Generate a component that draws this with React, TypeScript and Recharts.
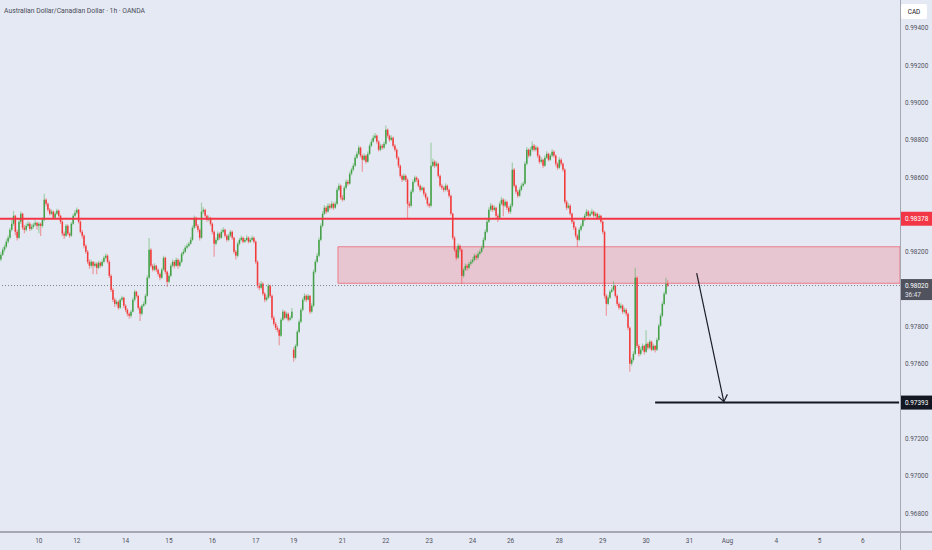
import React from 'react';
import { ComposedChart, Bar, XAxis, YAxis, ReferenceLine, ReferenceArea } from 'recharts';

// AUD/CAD 1h candles.
// Prices are stored as 1e-5 steps above 0.97000 (1378 -> 0.98378).
// Each candle is [high, low, close]; open = previous close, a 4th value overrides the open (gap).
type Candle = number[];

const firstOpen = 1160;

const seg09: Candle[] = [
  [1200, 1150, 1185], [1225, 1178, 1212], [1240, 1200, 1228], [1268, 1220, 1255], [1290, 1245, 1276],
  [1330, 1268, 1319], [1372, 1310, 1351], [1420, 1340, 1394], [1400, 1290, 1308], [1320, 1262, 1276],
  [1375, 1270, 1362], [1418, 1350, 1405], [1410, 1318, 1330], [1345, 1300, 1319], [1352, 1310, 1340],
  [1365, 1332, 1351], [1360, 1312, 1324], [1348, 1315, 1335], [1356, 1325, 1346], [1370, 1338, 1356],
  [1362, 1320, 1340],
];
const seg10: Candle[] = [
  [1362, 1300, 1351], [1358, 1285, 1340], [1385, 1330, 1373], [1512, 1365, 1480], [1488, 1445, 1458],
  [1465, 1415, 1426], [1435, 1395, 1405], [1428, 1398, 1416], [1422, 1372, 1383], [1415, 1375, 1405],
  [1432, 1398, 1421], [1428, 1385, 1394], [1400, 1350, 1362], [1370, 1285, 1298], [1310, 1270, 1287],
  [1350, 1280, 1340], [1348, 1290, 1298], [1305, 1275, 1287], [1360, 1282, 1351], [1405, 1345, 1394],
  [1425, 1388, 1410],
];
const seg12: Candle[] = [
  [1438, 1402, 1426], [1430, 1352, 1362], [1370, 1300, 1308], [1318, 1272, 1287], [1295, 1220, 1233],
  [1242, 1190, 1201], [1210, 1135, 1147], [1160, 1110, 1126], [1158, 1115, 1147], [1152, 1080, 1126],
  [1148, 1118, 1137], [1145, 1080, 1115], [1152, 1108, 1142], [1150, 1115, 1126], [1160, 1120, 1147],
  [1180, 1140, 1169], [1192, 1160, 1180], [1188, 1138, 1147], [1155, 1060, 1072], [1080, 985, 997],
  [1005, 930, 944], [955, 905, 922], [945, 912, 933], [940, 890, 901], [952, 895, 944],
  [965, 935, 955], [960, 900, 912],
];
const seg14: Candle[] = [
  [920, 878, 890], [898, 855, 869], [875, 842, 858], [890, 848, 880], [955, 875, 944],
  [998, 935, 987], [992, 955, 965], [970, 890, 901], [910, 830, 869], [920, 860, 912],
  [935, 905, 922], [975, 915, 965], [1075, 960, 1062], [1275, 1055, 1212], [1220, 1115, 1126],
  [1135, 1095, 1105], [1140, 1098, 1126], [1132, 1092, 1105], [1112, 1070, 1083], [1090, 1048, 1062],
  [1115, 1055, 1105], [1180, 1100, 1169], [1175, 1080, 1094], [1100, 1012, 1040],
];
const seg15: Candle[] = [
  [1085, 1032, 1072], [1138, 1065, 1126], [1160, 1118, 1147], [1155, 1112, 1126], [1170, 1120, 1158],
  [1165, 1110, 1126], [1158, 1118, 1147], [1200, 1140, 1190], [1215, 1182, 1201], [1235, 1195, 1223],
  [1245, 1215, 1233], [1255, 1225, 1244], [1280, 1238, 1265], [1342, 1258, 1330], [1395, 1322, 1383],
  [1390, 1330, 1340], [1350, 1305, 1319], [1325, 1262, 1276], [1465, 1270, 1416], [1440, 1405, 1426],
  [1432, 1385, 1394], [1400, 1362, 1373], [1395, 1365, 1383], [1388, 1340, 1351],
];
const seg16: Candle[] = [
  [1358, 1295, 1308], [1315, 1175, 1244], [1278, 1235, 1265], [1310, 1258, 1298], [1305, 1265, 1276],
  [1320, 1270, 1308], [1332, 1300, 1319], [1325, 1278, 1287], [1295, 1255, 1265], [1298, 1258, 1287],
  [1318, 1280, 1308], [1315, 1265, 1276], [1282, 1190, 1201], [1210, 1160, 1180], [1255, 1172, 1244],
  [1275, 1235, 1265], [1288, 1258, 1276], [1282, 1245, 1255], [1275, 1248, 1265], [1290, 1258, 1276],
  [1284, 1246, 1255], [1276, 1248, 1265], [1288, 1258, 1276], [1283, 1245, 1255],
];
const seg17: Candle[] = [
  [1262, 1135, 1147], [1155, 1005, 1019], [1035, 995, 1008], [1045, 1000, 1030], [1038, 965, 976],
  [985, 930, 944], [968, 935, 955], [1030, 948, 1019], [1025, 955, 965], [972, 835, 847],
  [858, 805, 815], [825, 782, 794], [805, 770, 783], [790, 700, 751], [848, 745, 837],
  [892, 830, 880], [886, 838, 847], [880, 840, 869], [875, 826, 837], [858, 830, 847],
  [900, 840, 880],
];
const seg19: Candle[] = [
  [690, 612, 633, 676], [705, 625, 697], [782, 690, 772], [838, 765, 826], [900, 818, 890],
  [955, 882, 944], [978, 935, 965], [972, 932, 944], [975, 938, 965], [970, 868, 880],
  [925, 872, 912], [1105, 905, 1094], [1160, 1085, 1147], [1195, 1140, 1180], [1278, 1172, 1265],
  [1352, 1258, 1340], [1418, 1332, 1405], [1452, 1398, 1437], [1445, 1405, 1416], [1462, 1410, 1448],
  [1458, 1428, 1437], [1472, 1430, 1458], [1465, 1425, 1437], [1470, 1430, 1458], [1545, 1450, 1533],
  [1568, 1525, 1555], [1562, 1480, 1491],
];
const seg21: Candle[] = [
  [1505, 1470, 1480], [1555, 1475, 1544], [1590, 1535, 1576], [1585, 1555, 1566], [1630, 1560, 1619],
  [1652, 1610, 1641], [1675, 1632, 1662], [1718, 1655, 1705], [1740, 1698, 1726], [1770, 1718, 1759],
  [1765, 1705, 1716], [1722, 1630, 1694], [1728, 1688, 1716], [1722, 1672, 1683], [1738, 1678, 1726],
  [1780, 1720, 1769], [1805, 1762, 1791], [1825, 1785, 1812], [1838, 1805, 1823], [1830, 1780, 1791],
  [1798, 1738, 1748], [1780, 1740, 1769], [1778, 1748, 1759], [1792, 1752, 1780],
];
const seg22: Candle[] = [
  [1878, 1772, 1855], [1862, 1812, 1823], [1830, 1790, 1801], [1825, 1795, 1812], [1818, 1760, 1769],
  [1778, 1738, 1748], [1755, 1695, 1705], [1712, 1650, 1662], [1668, 1598, 1608], [1615, 1575, 1587],
  [1620, 1580, 1608], [1615, 1575, 1587], [1595, 1378, 1458], [1470, 1435, 1448], [1535, 1440, 1523],
  [1588, 1515, 1576], [1610, 1568, 1598], [1605, 1575, 1587], [1595, 1545, 1555], [1562, 1522, 1533],
  [1555, 1525, 1544], [1550, 1500, 1512], [1520, 1480, 1491], [1498, 1445, 1458],
];
const seg23: Candle[] = [
  [1465, 1435, 1448], [1785, 1440, 1662], [1700, 1655, 1683], [1692, 1650, 1662], [1688, 1655, 1673],
  [1680, 1598, 1608], [1615, 1545, 1555], [1565, 1532, 1544], [1552, 1520, 1533], [1568, 1525, 1555],
  [1562, 1522, 1533], [1540, 1490, 1501], [1508, 1395, 1405], [1412, 1265, 1276], [1285, 1200, 1212],
  [1222, 1155, 1169], [1245, 1162, 1233], [1240, 1200, 1212], [1218, 1030, 1072], [1115, 1062, 1105],
  [1138, 1098, 1126], [1135, 1100, 1115], [1148, 1108, 1137], [1160, 1128, 1147],
];
const seg24: Candle[] = [
  [1172, 1138, 1158], [1192, 1150, 1180], [1188, 1155, 1169], [1202, 1160, 1190], [1215, 1182, 1201],
  [1235, 1195, 1223], [1278, 1215, 1265], [1320, 1258, 1308], [1375, 1300, 1362], [1440, 1355, 1426],
  [1462, 1418, 1448], [1455, 1415, 1426], [1450, 1418, 1437], [1442, 1382, 1394], [1405, 1360, 1383],
  [1470, 1375, 1458], [1495, 1450, 1480], [1488, 1392, 1448], [1482, 1440, 1469], [1475, 1425, 1437],
  [1445, 1405, 1416],
];
const seg26: Candle[] = [
  [1460, 1405, 1448], [1680, 1440, 1641], [1650, 1545, 1555], [1562, 1510, 1523], [1532, 1490, 1501],
  [1545, 1495, 1533], [1568, 1525, 1555], [1578, 1548, 1566], [1685, 1560, 1673], [1762, 1665, 1748],
  [1755, 1705, 1716], [1762, 1710, 1748], [1792, 1740, 1769], [1778, 1738, 1748], [1772, 1740, 1759],
  [1765, 1705, 1716], [1722, 1672, 1683], [1708, 1675, 1694], [1700, 1650, 1662], [1718, 1655, 1705],
  [1740, 1698, 1726], [1732, 1685, 1694], [1728, 1688, 1716], [1750, 1708, 1737], [1745, 1705, 1716],
  [1722, 1660, 1673], [1680, 1640, 1651],
];
const seg28: Candle[] = [
  [1708, 1645, 1694], [1702, 1662, 1673], [1680, 1630, 1641], [1648, 1458, 1469], [1478, 1425, 1437],
  [1462, 1430, 1448], [1455, 1395, 1405], [1412, 1350, 1362], [1370, 1318, 1330], [1338, 1275, 1287],
  [1295, 1228, 1265], [1330, 1258, 1319], [1352, 1310, 1340], [1385, 1332, 1373], [1405, 1365, 1394],
  [1430, 1388, 1416], [1425, 1385, 1394], [1418, 1388, 1405], [1432, 1398, 1416], [1422, 1385, 1394],
  [1415, 1388, 1405], [1412, 1372, 1383], [1405, 1375, 1394], [1400, 1352, 1362],
];
const seg29: Candle[] = [
  [1370, 1295, 1308], [1315, 950, 965], [975, 858, 922], [968, 915, 955], [998, 948, 987],
  [1010, 980, 997], [1045, 990, 1019], [1025, 955, 965], [972, 910, 922], [930, 890, 901],
  [925, 895, 912], [920, 868, 880], [902, 872, 890], [898, 855, 869], [875, 780, 794],
  [800, 558, 601], [635, 590, 622], [668, 612, 654], [1115, 648, 1062], [1070, 685, 697],
  [705, 640, 654], [690, 645, 676], [710, 668, 697], [702, 650, 665],
];
const seg30: Candle[] = [
  [780, 658, 708], [718, 675, 687], [730, 680, 719], [725, 668, 676], [708, 670, 697],
  [702, 662, 676], [740, 670, 729], [815, 722, 805], [870, 798, 858], [935, 850, 922],
  [988, 915, 976], [1062, 970, 1030], [1048, 1012, 1020],
];

// x axis: one slot per hour, empty slots on the right
const SLOTS = 498;
const dayTickSlots = [21, 42, 69, 93, 117, 141, 162, 189, 213, 237, 261, 282, 309, 333, 357, 381, 402, 429, 453, 477];
const dayTickLabels = ['10', '12', '14', '15', '16', '17', '19', '21', '22', '23', '24', '26', '28', '29', '30', '31', 'Aug', '4', '5', '6'];

const priceTicks = [0.968, 0.970, 0.972, 0.976, 0.978, 0.982, 0.986, 0.988, 0.990, 0.992, 0.994];
const resistance = 0.98378;
const lastPrice = 0.9802;
const countdown = '36:47';
const target = 0.97393;

// drawings
const zoneStart = 187;
const zoneTop = 0.98228;
const zoneBottom = 0.98032;
const targetStart = 362;
const arrowShaft = [{ x: 385, y: 0.98086 }, { x: 400, y: 0.97398 }];
const arrowHeadLeft = [{ x: 397, y: 0.97425 }, { x: 400, y: 0.97398 }];
const arrowHeadRight = [{ x: 402, y: 0.97437 }, { x: 400, y: 0.97398 }];

const toPrice = (u: number) => 0.97 + u / 100000;

const candles = [seg09, seg10, seg12, seg14, seg15, seg16, seg17, seg19, seg21, seg22, seg23, seg24, seg26, seg28, seg29, seg30].flat();

const rows: any[] = [];
let prevClose = firstOpen;
for (let i = 0; i < SLOTS; i++) {
  const t = candles[i];
  if (t) {
    const o = t[3] ?? prevClose;
    rows.push({
      i,
      o: toPrice(o),
      h: toPrice(Math.max(t[0], o, t[2])),
      l: toPrice(Math.min(t[1], o, t[2])),
      c: toPrice(t[2]),
    });
    prevClose = t[2];
  } else {
    rows.push({ i });
  }
}

const UP = '#43a047';
const DOWN = '#f23a3a';
const UP_WICK = 'rgba(76,175,80,0.45)';
const DOWN_WICK = 'rgba(242,58,58,0.45)';
const FONT = 'Roboto, sans-serif';
const BG = '#e5e9f4';

const CandleShape = (props: any) => {
  const { x, y, width, height, payload } = props;
  if (!payload || payload.h == null) return null;
  const top = Math.min(y, y + height);
  const bottom = Math.max(y, y + height);
  const k = (bottom - top) / (payload.h - payload.l);
  const py = (v: number) => top + (payload.h - v) * k;
  const up = payload.c >= payload.o;
  const cx = x + width / 2;
  const bTop = py(Math.max(payload.o, payload.c));
  const bH = Math.max(0.9, Math.abs(payload.o - payload.c) * k);
  return (
    <g>
      <line x1={cx} x2={cx} y1={top} y2={bottom} stroke={up ? UP_WICK : DOWN_WICK} strokeWidth={1.2} />
      <rect x={cx - 0.75} y={bTop} width={1.5} height={bH} fill={up ? UP : DOWN} />
    </g>
  );
};

const PriceTick = (props: any) => {
  const { x, y, payload } = props;
  const v = payload.value;
  const same = (a: number) => Math.abs(v - a) < 1e-7;
  const left = x - 5;
  if (same(resistance) || same(target)) {
    return (
      <g>
        <rect x={left} y={y - 7} width={32} height={14} fill={same(resistance) ? '#f23645' : '#131722'} />
        <text x={x} y={y} dy="0.355em" fontSize={6.4} fontFamily={FONT} fill="#ffffff">{v.toFixed(5)}</text>
      </g>
    );
  }
  if (same(lastPrice)) {
    return (
      <g>
        <rect x={left} y={y - 6.5} width={32} height={21} fill="#50535e" />
        <text x={x} y={y} dy="0.355em" fontSize={6.4} fontFamily={FONT} fill="#ffffff">{v.toFixed(5)}</text>
        <text x={x} y={y + 9} dy="0.355em" fontSize={6.4} fontFamily={FONT} fill="#e0e3eb">{countdown}</text>
      </g>
    );
  }
  return (
    <text x={x} y={y} dy="0.355em" fontSize={6.4} fontFamily={FONT} fill="#50535e">{v.toFixed(5)}</text>
  );
};

export default function App() {
  return (
    <div style={{ position: 'fixed', left: 0, top: 0, width: 932, height: 550, background: BG, overflow: 'hidden' }}>
      <ComposedChart width={932} height={550} data={rows} margin={{ top: 0, right: 0, left: 0, bottom: 0 }}>
        <XAxis
          dataKey="i"
          type="category"
          height={18}
          ticks={dayTickSlots}
          interval={0}
          tickFormatter={(v: number) => dayTickLabels[dayTickSlots.indexOf(v)] ?? ''}
          tick={{ fontSize: 6.5, fill: '#50535e', fontFamily: FONT }}
          tickLine={false}
          tickSize={0}
          tickMargin={6}
          axisLine={false}
        />
        <YAxis
          orientation="right"
          width={32}
          type="number"
          domain={[0.966996, 0.9955]}
          allowDataOverflow
          ticks={[...priceTicks, resistance, lastPrice, target]}
          interval={0}
          tick={<PriceTick />}
          tickLine={false}
          tickSize={0}
          tickMargin={5}
          axisLine={false}
        />
        <Bar
          dataKey={(d: any) => (d.h == null ? null : [d.l, d.h])}
          barSize={1.8}
          shape={<CandleShape />}
          isAnimationActive={false}
        />
        <ReferenceArea
          x1={zoneStart}
          x2={SLOTS - 1}
          y1={zoneBottom}
          y2={zoneTop}
          fill="#f23645"
          fillOpacity={0.2}
          stroke="#f23645"
          strokeOpacity={0.55}
        />
        <ReferenceLine y={resistance} stroke="#f23645" strokeWidth={1.8} />
        <ReferenceLine y={lastPrice} stroke="#7c7f8a" strokeDasharray="1 2" />
        <ReferenceLine segment={[{ x: targetStart, y: target }, { x: SLOTS - 1, y: target }]} stroke="#131722" strokeWidth={2} />
        <ReferenceLine segment={arrowShaft} stroke="#1c1f28" strokeWidth={1.2} />
        <ReferenceLine segment={arrowHeadLeft} stroke="#1c1f28" strokeWidth={1.2} />
        <ReferenceLine segment={arrowHeadRight} stroke="#1c1f28" strokeWidth={1.2} />
      </ComposedChart>

      <div style={{ position: 'absolute', left: 0, top: 531, width: 932, height: 2, background: '#a5a8b2' }} />
      <div style={{ position: 'absolute', left: 900, top: 0, width: 1, height: 550, background: '#a5a8b2' }} />

      <div style={{ position: 'absolute', left: 4, top: 7, fontSize: 6.8, fontFamily: FONT, color: '#4a4d58', whiteSpace: 'nowrap', lineHeight: '8px' }}>
        Australian Dollar/Canadian Dollar · 1h · OANDA
      </div>
      <div
        style={{
          position: 'absolute', left: 901, top: 4, width: 26, height: 15, background: '#ffffff', borderRadius: 2,
          fontSize: 6.4, fontFamily: FONT, color: '#131722', display: 'flex', alignItems: 'center', justifyContent: 'center',
        }}
      >
        CAD
      </div>
    </div>
  );
}
